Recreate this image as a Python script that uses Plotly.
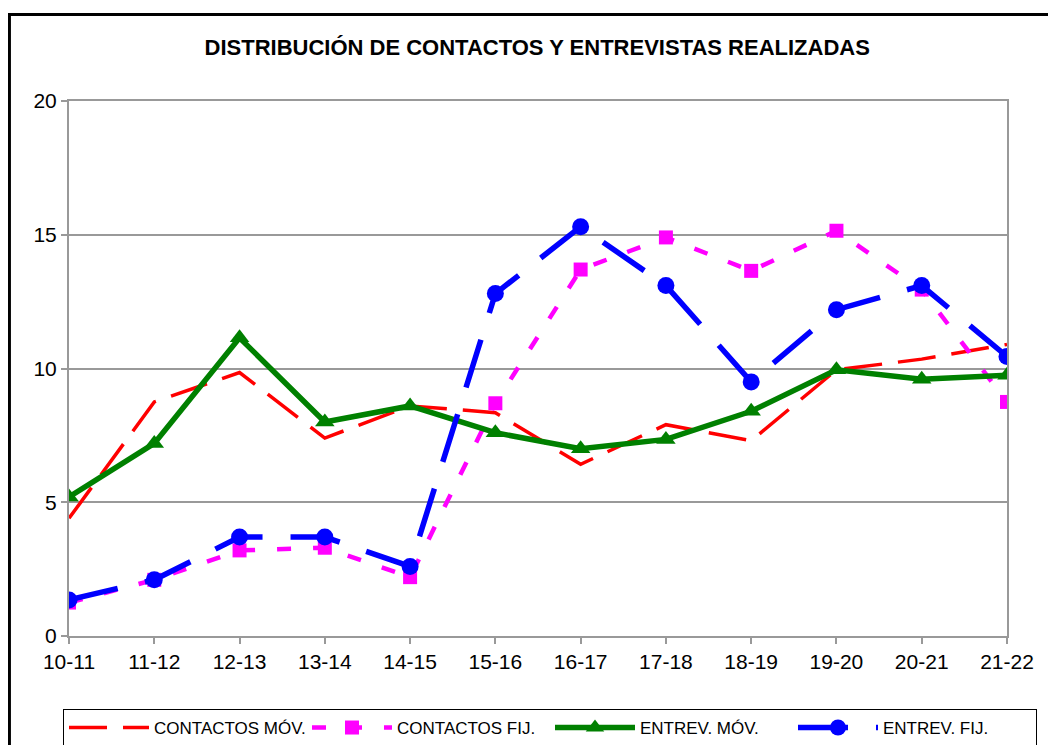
import plotly.graph_objects as go

periods = ["10-11", "11-12", "12-13", "13-14", "14-15", "15-16",
           "16-17", "17-18", "18-19", "19-20", "20-21", "21-22"]

contactos_mov = [4.4, 8.75, 9.85, 7.4, 8.6, 8.35, 6.42, 7.9, 7.3, 9.95, 10.35, 10.9]
contactos_fij = [1.25, 2.1, 3.2, 3.3, 2.2, 8.7, 13.7, 14.9, 13.65, 15.15, 12.95, 8.75]
entrev_mov = [5.2, 7.2, 11.15, 8.0, 8.6, 7.6, 7.0, 7.35, 8.4, 9.95, 9.6, 9.75]
entrev_fij = [1.35, 2.1, 3.7, 3.7, 2.6, 12.8, 15.3, 13.1, 9.5, 12.2, 13.1, 10.45]

FONT = "Arial, Liberation Sans, sans-serif"

fig = go.Figure()

fig.add_trace(go.Scatter(
    x=periods, y=contactos_mov, name="CONTACTOS MÓV.", mode="lines",
    line=dict(color="#ff0000", width=3.5, dash="38px,16px"),
))
fig.add_trace(go.Scatter(
    x=periods, y=contactos_fij, name="CONTACTOS FIJ.", mode="lines+markers",
    line=dict(color="#ff00ff", width=4.5, dash="14px,22px"),
    marker=dict(symbol="square", size=14, color="#ff00ff"),
))
fig.add_trace(go.Scatter(
    x=periods, y=entrev_mov, name="ENTREV. MÓV.", mode="lines+markers",
    line=dict(color="#008000", width=5.5),
    marker=dict(symbol="triangle-up", size=17, color="#008000"),
))
fig.add_trace(go.Scatter(
    x=periods, y=entrev_fij, name="ENTREV. FIJ.", mode="lines+markers",
    line=dict(color="#0000ff", width=5.5, dash="50px,28px"),
    marker=dict(symbol="circle", size=17, color="#0000ff"),
))

# outer black frame of the chart area
fig.add_shape(type="rect", xref="paper", yref="paper",
              x0=-0.0635, x1=1.07, y0=-0.25, y1=1.1617,
              line=dict(color="black", width=3), fillcolor="rgba(0,0,0,0)")

# page body adds an 8px offset, so the figure is a bit smaller than the window
fig.update_layout(
    width=1048, height=737,
    margin=dict(l=61, r=49, t=93, b=109, autoexpand=False),
    paper_bgcolor="white", plot_bgcolor="white",
    font=dict(family=FONT, size=16, color="black"),
    title=dict(text="<b>DISTRIBUCIÓN DE CONTACTOS Y ENTREVISTAS REALIZADAS</b>",
               x=0.505, xanchor="center", y=0.947, yanchor="middle",
               font=dict(family=FONT, size=22, color="black")),
    showlegend=True,
    legend=dict(orientation="h", x=-0.0064, xanchor="left", y=-0.1364, yanchor="top",
                bordercolor="black", borderwidth=1, bgcolor="white",
                font=dict(family=FONT, size=17, color="black"),
                itemwidth=80, entrywidth=148, tracegroupgap=0),
)

fig.update_xaxes(
    type="category", range=[0, 11], showgrid=False,
    showline=True, linecolor="#999999", linewidth=2, mirror=True,
    ticks="outside", ticklen=6, tickcolor="#999999", tickwidth=2,
    tickfont=dict(family=FONT, size=21, color="black"),
)
fig.update_yaxes(
    range=[0, 20], dtick=5, showgrid=True, gridcolor="#999999", gridwidth=2,
    showline=True, linecolor="#999999", linewidth=2, mirror=True,
    ticks="outside", ticklen=6, tickcolor="#999999", tickwidth=2,
    tickfont=dict(family=FONT, size=21, color="black"), zeroline=False,
)

fig.write_html("out.html")
